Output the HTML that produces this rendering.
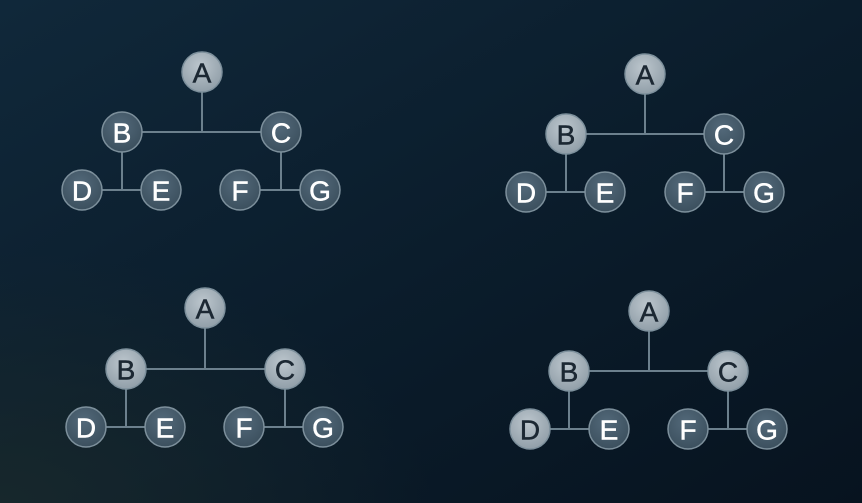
<!DOCTYPE html>
<html><head><meta charset="utf-8"><style>
html,body{margin:0;padding:0;width:862px;height:503px;overflow:hidden;background:#0a1a28;}
svg{display:block}
text{font-family:"Liberation Sans",sans-serif;font-size:28px;text-anchor:middle;dominant-baseline:central}
.l{fill:#1c2833;stroke:#1c2833;stroke-width:0.5}
.d{fill:#fff;stroke:#fff;stroke-width:0.5}
</style></head><body>
<svg width="862" height="503" viewBox="0 0 862 503" xmlns="http://www.w3.org/2000/svg">
<defs>
<linearGradient id="bg" x1="0" y1="0" x2="1" y2="1">
<stop offset="0" stop-color="#10283a"/><stop offset="0.5" stop-color="#0b1d2c"/><stop offset="1" stop-color="#07131f"/>
</linearGradient>
<radialGradient id="bl" cx="0" cy="1" r="0.5"><stop offset="0" stop-color="#1a2a2c" stop-opacity="0.8"/><stop offset="1" stop-color="#1a2a2c" stop-opacity="0"/></radialGradient>
<radialGradient id="lt" cx="0.45" cy="0.35" r="0.7"><stop offset="0" stop-color="#bcc6cd"/><stop offset="1" stop-color="#8e9ca6"/></radialGradient>
<radialGradient id="dk" cx="0.45" cy="0.35" r="0.7"><stop offset="0" stop-color="#53697a"/><stop offset="1" stop-color="#3a4e5c"/></radialGradient>
</defs>
<rect width="862" height="503" fill="url(#bg)"/>
<rect width="862" height="503" fill="url(#bl)"/>
<g stroke="#6c808d" stroke-width="2" fill="none">
<path d="M202 92V132M122 132H281M122 152V190M82 190H161M281 152V190M240 190H320"/>
<path d="M645 94V134M566 134H724M566 154V192M526 192H605M724 154V192M685 192H764"/>
<path d="M205 328V369M126 369H285M126 389V427M86 427H165M285 389V427M244 427H323"/>
<path d="M649 331V371M569 371H728M569 391V429M530 429H609M728 391V429M688 429H767"/>
</g>
<g stroke="#7d909c" stroke-width="1.5">
<circle cx="202" cy="72" r="20" fill="url(#lt)"/><circle cx="122" cy="132" r="20" fill="url(#dk)"/><circle cx="281" cy="132" r="20" fill="url(#dk)"/><circle cx="82" cy="190" r="20" fill="url(#dk)"/><circle cx="161" cy="190" r="20" fill="url(#dk)"/><circle cx="240" cy="190" r="20" fill="url(#dk)"/><circle cx="320" cy="190" r="20" fill="url(#dk)"/>
<circle cx="645" cy="74" r="20" fill="url(#lt)"/><circle cx="566" cy="134" r="20" fill="url(#lt)"/><circle cx="724" cy="134" r="20" fill="url(#dk)"/><circle cx="526" cy="192" r="20" fill="url(#dk)"/><circle cx="605" cy="192" r="20" fill="url(#dk)"/><circle cx="685" cy="192" r="20" fill="url(#dk)"/><circle cx="764" cy="192" r="20" fill="url(#dk)"/>
<circle cx="205" cy="308" r="20" fill="url(#lt)"/><circle cx="126" cy="369" r="20" fill="url(#lt)"/><circle cx="285" cy="369" r="20" fill="url(#lt)"/><circle cx="86" cy="427" r="20" fill="url(#dk)"/><circle cx="165" cy="427" r="20" fill="url(#dk)"/><circle cx="244" cy="427" r="20" fill="url(#dk)"/><circle cx="323" cy="427" r="20" fill="url(#dk)"/>
<circle cx="649" cy="311" r="20" fill="url(#lt)"/><circle cx="569" cy="371" r="20" fill="url(#lt)"/><circle cx="728" cy="371" r="20" fill="url(#lt)"/><circle cx="530" cy="429" r="20" fill="url(#lt)"/><circle cx="609" cy="429" r="20" fill="url(#dk)"/><circle cx="688" cy="429" r="20" fill="url(#dk)"/><circle cx="767" cy="429" r="20" fill="url(#dk)"/>
</g>
<g>
<text class="l" x="202" y="73">A</text><text class="d" x="122" y="133">B</text><text class="d" x="281" y="133">C</text><text class="d" x="82" y="191">D</text><text class="d" x="161" y="191">E</text><text class="d" x="240" y="191">F</text><text class="d" x="320" y="191">G</text>
<text class="l" x="645" y="75">A</text><text class="l" x="566" y="135">B</text><text class="d" x="724" y="135">C</text><text class="d" x="526" y="193">D</text><text class="d" x="605" y="193">E</text><text class="d" x="685" y="193">F</text><text class="d" x="764" y="193">G</text>
<text class="l" x="205" y="309">A</text><text class="l" x="126" y="370">B</text><text class="l" x="285" y="370">C</text><text class="d" x="86" y="428">D</text><text class="d" x="165" y="428">E</text><text class="d" x="244" y="428">F</text><text class="d" x="323" y="428">G</text>
<text class="l" x="649" y="312">A</text><text class="l" x="569" y="372">B</text><text class="l" x="728" y="372">C</text><text class="l" x="530" y="430">D</text><text class="d" x="609" y="430">E</text><text class="d" x="688" y="430">F</text><text class="d" x="767" y="430">G</text>
</g>
</svg>
</body></html>
